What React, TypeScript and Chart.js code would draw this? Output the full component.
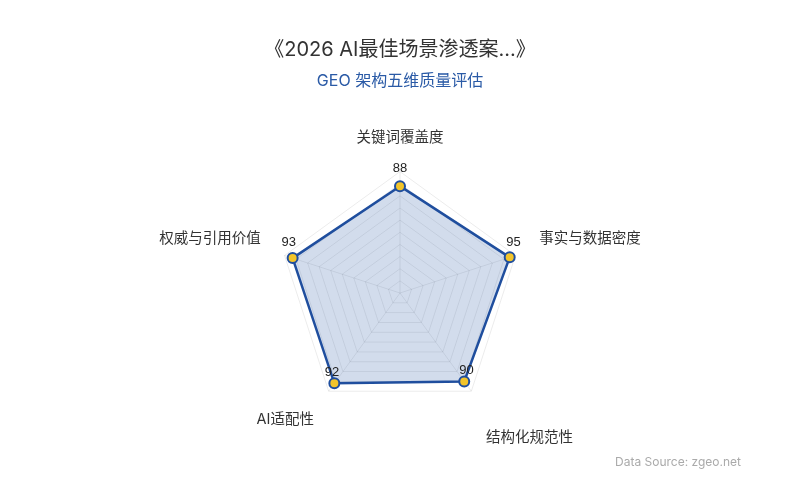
import React, { useEffect, useRef } from 'react';
import Chart from 'chart.js/auto';

const dimensions = ['关键词覆盖度', '事实与数据密度', '结构化规范性', 'AI适配性', '权威与引用价值'];
const scores = [88, 95, 90, 92, 93];
const scaleMax = 100;
const scaleStep = 10;

const BLUE = '#1f4e9e';
const FONT = "Inter, 'Noto Sans CJK SC', sans-serif";

// draws the score above each point, nudged a bit outward from the centre
const valueLabels = {
  id: 'valueLabels',
  afterDatasetsDraw(chart: any) {
    const { ctx } = chart;
    const scale = chart.scales.r;
    const meta = chart.getDatasetMeta(0);
    ctx.save();
    ctx.font = "13px 'Liberation Sans', Arial, sans-serif";
    ctx.fillStyle = '#222';
    ctx.textAlign = 'center';
    ctx.textBaseline = 'middle';
    meta.data.forEach((pt: any, i: number) => {
      const dx = pt.x - scale.xCenter;
      const dy = pt.y - scale.yCenter;
      const len = Math.hypot(dx, dy) || 1;
      ctx.fillText(String(scores[i]), pt.x + (dx / len) * 4, pt.y + (dy / len) * 4 - 14);
    });
    ctx.restore();
  }
};

export default function App() {
  const ref = useRef<HTMLCanvasElement>(null);
  useEffect(() => {
    if (!ref.current) return;
    Chart.defaults.font.family = FONT;
    const chart = new Chart(ref.current, {
      type: 'radar',
      data: {
        labels: dimensions,
        datasets: [{
          label: 'GEO',
          data: scores,
          borderColor: BLUE,
          borderWidth: 2.5,
          backgroundColor: 'rgba(31,78,158,0.2)',
          fill: true,
          pointBackgroundColor: '#f2c42a',
          pointBorderColor: BLUE,
          pointBorderWidth: 2,
          pointRadius: 5
        }]
      },
      options: {
        animation: false,
        responsive: true,
        maintainAspectRatio: false,
        layout: { padding: { top: 38, bottom: 49, left: 20, right: 20 } },
        plugins: {
          legend: { display: false },
          tooltip: { enabled: false },
          title: {
            display: true,
            text: '《2026 AI最佳场景渗透案...》',
            color: '#333',
            font: { size: 20, weight: 'normal' },
            padding: { top: 0, bottom: 10 }
          },
          subtitle: {
            display: true,
            text: 'GEO 架构五维质量评估',
            color: '#2a5aa6',
            font: { size: 16 },
            padding: { bottom: 32 }
          }
        },
        scales: {
          r: {
            min: 0,
            max: scaleMax,
            ticks: { display: false, stepSize: scaleStep },
            grid: { color: 'rgba(0,0,0,0.08)' },
            angleLines: { color: 'rgba(0,0,0,0.08)' },
            pointLabels: {
              padding: 25,
              color: '#333',
              font: { size: 14.5 },
              // the bottom-right name sits one line lower in the reference
              callback: (label: string, i: number) => (i === 2 ? ['', label] : label)
            }
          }
        }
      },
      plugins: [valueLabels]
    });
    return () => chart.destroy();
  }, []);
  return (
    <div style={{ position: 'fixed', left: 0, top: 0, width: 800, height: 500, background: '#fff' }}>
      <canvas ref={ref} />
      <div style={{ position: 'absolute', right: 59, top: 454, fontFamily: FONT, fontSize: 12, color: '#aaa' }}>
        Data Source: zgeo.net
      </div>
    </div>
  );
}
